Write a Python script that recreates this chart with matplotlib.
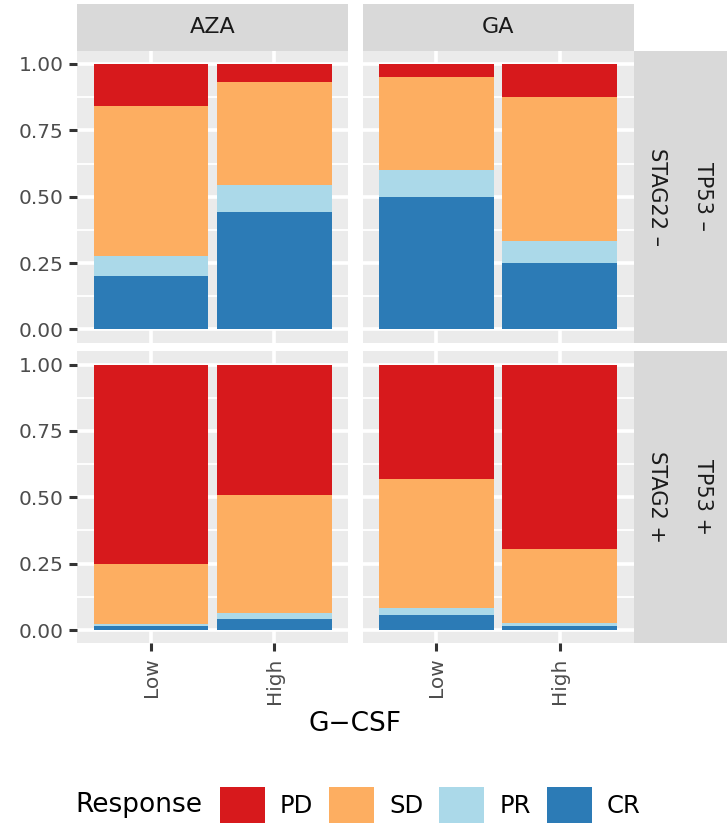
import matplotlib
matplotlib.use("Agg")
import matplotlib.pyplot as plt
from matplotlib.patches import Patch
from matplotlib.ticker import FixedLocator
import numpy as np

# ---------------- data ----------------
drugs = ["AZA", "GA"]
gcsf = ["Low", "High"]
tp53_labels = ["TP53 \u2013", "TP53 +"]
stag2_labels = ["STAG22 \u2013", "STAG2 +"]
responses = ["PD", "SD", "PR", "CR"]
colors = ["#D7191C", "#FDAE61", "#ABD9E9", "#2C7BB6"]

# order within each list: AZA-Low, AZA-High, GA-Low, GA-High
# top row (TP53 - / STAG22 -)
cr_top = [0.200, 0.444, 0.500, 0.250]
pr_top = [0.077, 0.099, 0.100, 0.083]
sd_top = [0.563, 0.390, 0.350, 0.542]
pd_top = [0.160, 0.067, 0.050, 0.125]
# bottom row (TP53 + / STAG2 +)
cr_bot = [0.014, 0.043, 0.056, 0.017]
pr_bot = [0.007, 0.021, 0.027, 0.008]
sd_bot = [0.227, 0.444, 0.486, 0.279]
pd_bot = [0.752, 0.492, 0.431, 0.696]

rows = [
    {"CR": cr_top, "PR": pr_top, "SD": sd_top, "PD": pd_top},
    {"CR": cr_bot, "PR": pr_bot, "SD": sd_bot, "PD": pd_bot},
]

# ---------------- layout ----------------
W, H = 728, 825
fig = plt.figure(figsize=(W / 100, H / 100), dpi=100)


def rect(x0, y0, x1, y1):
    return [x0 / W, 1 - y1 / H, (x1 - x0) / W, (y1 - y0) / H]


col_x = [(77.3, 348.3), (362.5, 633.5)]
row_y = [(50.7, 342.7), (351.3, 643.3)]

panel_bg = "#EBEBEB"
strip_bg = "#D9D9D9"
tick_col = "#333333"
lab_col = "#4D4D4D"

stack_order = ["CR", "PR", "SD", "PD"]
col_of = dict(zip(responses, colors))

for r in range(2):
    for c in range(2):
        ax = fig.add_axes(rect(col_x[c][0], row_y[r][0], col_x[c][1], row_y[r][1]))
        ax.set_facecolor(panel_bg)
        x = np.arange(1, len(gcsf) + 1)
        bottom = np.zeros(len(gcsf))
        for resp in stack_order:
            vals = np.array(rows[r][resp][2 * c: 2 * c + 2])
            ax.bar(x, vals, bottom=bottom, width=0.93, color=col_of[resp],
                   linewidth=0, zorder=3)
            bottom += vals
        ax.set_xlim(0.4, 2.6)
        ax.set_ylim(-0.05, 1.05)
        ax.set_xticks(x)
        ax.set_yticks([0, 0.25, 0.5, 0.75, 1.0])
        ax.yaxis.set_minor_locator(FixedLocator([0.125, 0.375, 0.625, 0.875]))
        ax.grid(True, which="major", color="white", linewidth=2.6, zorder=0)
        ax.grid(True, which="minor", axis="y", color="white", linewidth=1.3, zorder=0)
        ax.set_axisbelow(True)
        for s in ax.spines.values():
            s.set_visible(False)
        ax.tick_params(which="minor", length=0)
        ax.tick_params(which="major", length=6, width=2.2, color=tick_col,
                       labelcolor=lab_col, labelsize=14.5, pad=4)
        if c == 0:
            ax.set_yticklabels(["0.00", "0.25", "0.50", "0.75", "1.00"])
        else:
            ax.tick_params(axis="y", length=0, labelleft=False)
        if r == 1:
            ax.set_xticklabels(gcsf, rotation=90)
        else:
            ax.tick_params(axis="x", length=0, labelbottom=False)

# top strips
for c in range(2):
    sax = fig.add_axes(rect(col_x[c][0], 4, col_x[c][1], 50.7))
    sax.set_facecolor(strip_bg)
    sax.set_xticks([]); sax.set_yticks([])
    for s in sax.spines.values():
        s.set_visible(False)
    sax.text(0.5, 0.5, drugs[c], ha="center", va="center", fontsize=16,
             color="#1A1A1A", transform=sax.transAxes)

# right strips (inner: STAG2, outer: TP53)
for r in range(2):
    for k, (labs, x0, x1) in enumerate([(stag2_labels, 633.5, 680.0),
                                        (tp53_labels, 680.0, 726.5)]):
        sax = fig.add_axes(rect(x0, row_y[r][0], x1, row_y[r][1]))
        sax.set_facecolor(strip_bg)
        sax.set_xticks([]); sax.set_yticks([])
        for s in sax.spines.values():
            s.set_visible(False)
        sax.text(0.5, 0.5, labs[r], ha="center", va="center", fontsize=15,
                 rotation=-90, color="#1A1A1A", transform=sax.transAxes)

# axis title
fig.text((col_x[0][0] + col_x[1][1]) / 2 / W, 1 - 724 / H, "G\u2212CSF",
         ha="center", va="center", fontsize=19, color="black")

# legend
fig.text(75 / W, 1 - 805 / H, "Response", ha="left", va="center",
         fontsize=19, color="black")
handles = [Patch(facecolor=col, edgecolor="none", label=lab)
           for lab, col in zip(responses, colors)]
fs = 17.5
fpx = fs * 100 / 72
fig.legend(handles=handles, ncol=4, loc="center left",
           bbox_to_anchor=(220 / W, 1 - 805 / H), frameon=False,
           fontsize=fs, handlelength=45 / fpx, handleheight=45 / fpx,
           handletextpad=15 / fpx, columnspacing=16 / fpx,
           borderpad=0, borderaxespad=0)

fig.savefig("out.png", dpi=100)
